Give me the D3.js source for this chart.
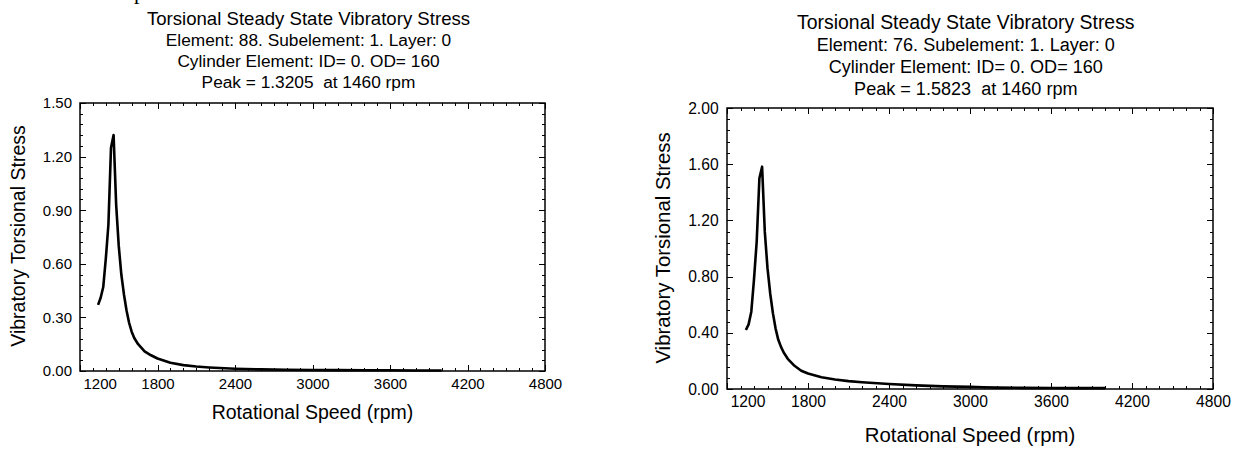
<!DOCTYPE html>
<html>
<head>
<meta charset="utf-8">
<script src="https://cdn.jsdelivr.net/npm/d3@7"></script>
<style>
  body { margin: 0; background: #fff; }
  svg { display: block; }
  text { font-family: "Liberation Sans", Arial, sans-serif; fill: #000; }
</style>
</head>
<body>
<svg id="chart" width="1238" height="453"></svg>
<script>
// element 88 (left chart)
const rpmA = [1340, 1360, 1380, 1400, 1420, 1440, 1460, 1480, 1500, 1520, 1540, 1560, 1580, 1600, 1620, 1650,
    1700, 1750, 1800, 1900, 2000, 2100, 2200, 2400, 2600, 2800, 3000, 3200, 3400, 3600, 3800, 4000];
const stressA = [0.37, 0.41, 0.47, 0.63, 0.82, 1.25, 1.3205, 0.93, 0.70, 0.54, 0.43, 0.34, 0.27, 0.22, 0.185, 0.15,
    0.11, 0.088, 0.07, 0.046, 0.033, 0.025, 0.02, 0.013, 0.009, 0.007, 0.006, 0.005, 0.004, 0.004, 0.003, 0.003];

// element 76 (right chart)
const rpmB = [1340, 1360, 1380, 1400, 1420, 1440, 1460, 1480, 1500, 1520, 1540, 1560, 1580, 1600, 1620, 1650,
    1700, 1750, 1800, 1900, 2000, 2100, 2200, 2400, 2600, 2800, 3000, 3100, 3200, 3400, 3600, 3800, 4000];
const stressB = [0.42, 0.46, 0.55, 0.78, 1.05, 1.50, 1.5823, 1.12, 0.86, 0.68, 0.54, 0.43, 0.35, 0.30, 0.26, 0.215,
    0.165, 0.13, 0.11, 0.084, 0.068, 0.056, 0.048, 0.036, 0.026, 0.019, 0.015, 0.012, 0.01, 0.008, 0.007, 0.006, 0.006];

const xTicks = [1200, 1800, 2400, 3000, 3600, 4200, 4800];
const yTicksA = [0, 0.3, 0.6, 0.9, 1.2, 1.5];
const yTicksB = [0, 0.4, 0.8, 1.2, 1.6, 2.0];

const mainTitle = 'Torsional Steady State Vibratory Stress';
const linesA = ['Element: 88. Subelement: 1. Layer: 0', 'Cylinder Element: ID= 0. OD= 160', 'Peak = 1.3205  at 1460 rpm'];
const linesB = ['Element: 76. Subelement: 1. Layer: 0', 'Cylinder Element: ID= 0. OD= 160', 'Peak = 1.5823  at 1460 rpm'];
const xTitle = 'Rotational Speed (rpm)';
const yTitle = 'Vibratory Torsional Stress';

const svg = d3.select('#chart');

// bit of a cut-off glyph from the page above the charts
svg.append('text')
    .attr('x', 134).attr('y', -1)
    .style('font-family', '"Liberation Serif", serif')
    .style('font-size', '22px')
    .text('p');

function drawPanel(cfg) {
    const s = cfg.scale;
    const w = cfg.width, h = cfg.height;
    const g = svg.append('g').attr('transform', `translate(${cfg.left},${cfg.top})`);

    const x = d3.scaleLinear().domain([1200, 4800]).range([0, w]);
    const y = d3.scaleLinear().domain([0, cfg.yMax]).range([h, 0]);

    const xMinor = d3.range(1200, 4801, 100);
    const yMinor = d3.range(0, cfg.yMax + 1e-6, cfg.yMax / 25);

    // minor ticks all round
    const minor = [
        [d3.axisBottom(x).tickValues(xMinor), `translate(0,${h})`],
        [d3.axisTop(x).tickValues(xMinor), 'translate(0,0)'],
        [d3.axisLeft(y).tickValues(yMinor), 'translate(0,0)'],
        [d3.axisRight(y).tickValues(yMinor), `translate(${w},0)`]
    ];
    minor.forEach(([ax, tr]) => {
        const a = g.append('g').attr('transform', tr)
            .call(ax.tickSize(-3).tickFormat(''));
        a.select('.domain').remove();
        a.attr('shape-rendering', 'crispEdges');
    });

    // major ticks
    const gx = g.append('g').attr('transform', `translate(0,${h})`)
        .call(d3.axisBottom(x).tickValues(xTicks).tickSize(-6).tickPadding(7 * s).tickFormat(d3.format('d')));
    const gy = g.append('g')
        .call(d3.axisLeft(y).tickValues(cfg.yTicks).tickSize(-6).tickPadding(8 * s).tickFormat(d3.format('.2f')));
    const gt = g.append('g')
        .call(d3.axisTop(x).tickValues(xTicks).tickSize(-6).tickFormat(''));
    const gr = g.append('g').attr('transform', `translate(${w},0)`)
        .call(d3.axisRight(y).tickValues(cfg.yTicks).tickSize(-6).tickFormat(''));

    [gx, gy, gt, gr].forEach(a => {
        a.select('.domain').remove();
        a.attr('shape-rendering', 'crispEdges')
            .attr('font-family', null)
            .attr('font-size', null);
        a.selectAll('text').style('font-size', (15 * s) + 'px');
    });

    // first x label sits inside the frame
    gx.selectAll('text').filter(d => d === 1200)
        .attr('text-anchor', 'start')
        .attr('x', 3 * s);

    g.append('rect')
        .attr('width', w).attr('height', h)
        .attr('fill', 'none')
        .attr('stroke', '#000')
        .attr('stroke-width', 1.5);

    const pts = cfg.rpm.map((r, i) => [r, cfg.stress[i]]);
    g.append('path')
        .datum(pts)
        .attr('fill', 'none')
        .attr('stroke', '#000')
        .attr('stroke-width', 2.6)
        .attr('stroke-linejoin', 'round')
        .attr('d', d3.line().x(d => x(d[0])).y(d => y(d[1])));

    // titles
    const cx = w / 2;
    const lines = [mainTitle].concat(cfg.lines);
    lines.forEach((t, i) => {
        g.append('text')
            .attr('x', cx - 4 * s)
            .attr('y', cfg.titleY[i] - cfg.top)
            .attr('text-anchor', 'middle')
            .style('font-size', ((i === 0 ? 18.6 : 17.3) * s) + 'px')
            .style('white-space', 'pre')
            .text(t);
    });

    g.append('text')
        .attr('x', cx)
        .attr('y', cfg.xTitleY - cfg.top)
        .attr('text-anchor', 'middle')
        .style('font-size', (19.5 * s) + 'px')
        .text(xTitle);

    g.append('text')
        .attr('transform', `translate(${cfg.yTitleX - cfg.left},${cfg.yTitleMid - cfg.top}) rotate(-90)`)
        .attr('text-anchor', 'middle')
        .style('font-size', (19.5 * s) + 'px')
        .text(yTitle);
}

drawPanel({
    left: 80, top: 103, width: 465, height: 268, scale: 1,
    yMax: 1.5, yTicks: yTicksA, rpm: rpmA, stress: stressA, lines: linesA,
    titleY: [25, 46, 67, 88], xTitleY: 419, yTitleX: 25, yTitleMid: 236
});

drawPanel({
    left: 727, top: 108, width: 486, height: 281, scale: 1.045,
    yMax: 2.0, yTicks: yTicksB, rpm: rpmB, stress: stressB, lines: linesB,
    titleY: [29, 51, 73, 95], xTitleY: 442, yTitleX: 670, yTitleMid: 248
});
</script>
</body>
</html>
